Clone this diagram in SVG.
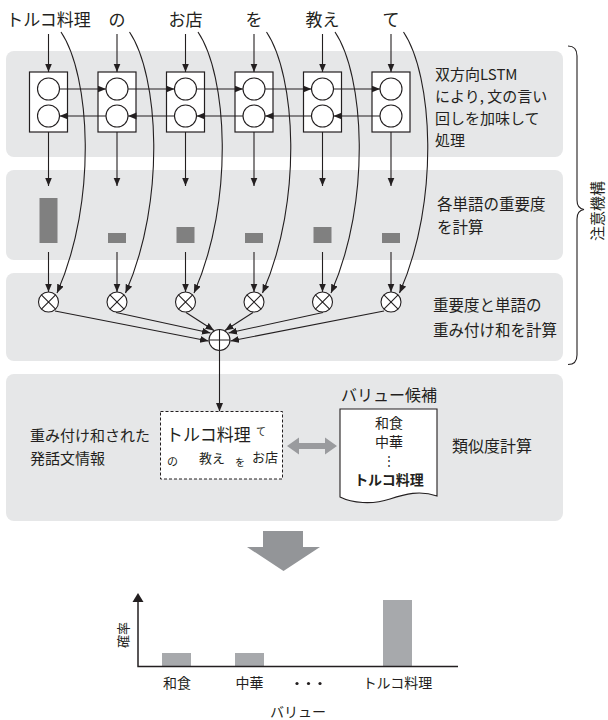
<svg xmlns="http://www.w3.org/2000/svg" width="608" height="720" viewBox="0 0 608 720">
<defs>
<style>
text{font-family:"Noto Sans CJK JP","Noto Sans",sans-serif;fill:#231f20}
.panel{fill:#e6e7e8}
.ln{stroke:#231f20;stroke-width:1.1;fill:none}
.box{fill:#fff;stroke:#231f20;stroke-width:1.2}
.cir{fill:#fff;stroke:#231f20;stroke-width:1.1}
.bar{fill:#808080}
.cbar{fill:#a7a9ac}
.t15{font-size:15px}
.w{font-size:17px;text-anchor:middle}
</style>
<marker id="ah" markerUnits="userSpaceOnUse" markerWidth="10" markerHeight="8" refX="8.5" refY="3.5" orient="auto">
<path d="M0,0 L8.5,3.5 L0,7 z" fill="#231f20"/>
</marker>
</defs>

<!-- panels -->
<rect class="panel" x="6" y="51" width="557" height="106" rx="8"/>
<rect class="panel" x="6" y="170" width="557" height="90" rx="8"/>
<rect class="panel" x="6" y="273" width="557" height="88" rx="8"/>
<rect class="panel" x="6" y="374" width="557" height="147" rx="8"/>

<!-- word labels -->
<g id="words">
<text class="w" x="48.5" y="26">トルコ料理</text>
<text class="w" x="117" y="26">の</text>
<text class="w" x="185.5" y="26">お店</text>
<text class="w" x="254" y="26">を</text>
<text class="w" x="322.5" y="26">教え</text>
<text class="w" x="391" y="26">て</text>
</g>

<!-- LSTM nodes -->
<g id="lstm1"><rect class="box" x="29.5" y="72" width="38" height="60"/><circle class="cir" cx="48.5" cy="89" r="11"/><circle class="cir" cx="48.5" cy="116" r="11"/></g>
<g id="lstm2"><rect class="box" x="98" y="72" width="38" height="60"/><circle class="cir" cx="117" cy="89" r="11"/><circle class="cir" cx="117" cy="116" r="11"/></g>
<g id="lstm3"><rect class="box" x="166.5" y="72" width="38" height="60"/><circle class="cir" cx="185.5" cy="89" r="11"/><circle class="cir" cx="185.5" cy="116" r="11"/></g>
<g id="lstm4"><rect class="box" x="235" y="72" width="38" height="60"/><circle class="cir" cx="254" cy="89" r="11"/><circle class="cir" cx="254" cy="116" r="11"/></g>
<g id="lstm5"><rect class="box" x="303.5" y="72" width="38" height="60"/><circle class="cir" cx="322.5" cy="89" r="11"/><circle class="cir" cx="322.5" cy="116" r="11"/></g>
<g id="lstm6"><rect class="box" x="372" y="72" width="38" height="60"/><circle class="cir" cx="391" cy="89" r="11"/><circle class="cir" cx="391" cy="116" r="11"/></g>

<!-- importance bars -->
<g id="imp">
<rect class="bar" x="39.5" y="198" width="18" height="45"/>
<rect class="bar" x="108" y="233" width="18" height="10"/>
<rect class="bar" x="176.5" y="227" width="18" height="16"/>
<rect class="bar" x="245" y="233" width="18" height="10"/>
<rect class="bar" x="313.5" y="227" width="18" height="16"/>
<rect class="bar" x="382" y="233" width="18" height="10"/>
</g>

<!-- multiply nodes -->
<g id="mul">
<g id="m1"><circle class="cir" cx="48.5" cy="302" r="10"/><path class="ln" d="M41.4,294.9 L55.6,309.1 M55.6,294.9 L41.4,309.1"/></g>
<g id="m2"><circle class="cir" cx="117" cy="302" r="10"/><path class="ln" d="M109.9,294.9 L124.1,309.1 M124.1,294.9 L109.9,309.1"/></g>
<g id="m3"><circle class="cir" cx="185.5" cy="302" r="10"/><path class="ln" d="M178.4,294.9 L192.6,309.1 M192.6,294.9 L178.4,309.1"/></g>
<g id="m4"><circle class="cir" cx="254" cy="302" r="10"/><path class="ln" d="M246.9,294.9 L261.1,309.1 M261.1,294.9 L246.9,309.1"/></g>
<g id="m5"><circle class="cir" cx="322.5" cy="302" r="10"/><path class="ln" d="M315.4,294.9 L329.6,309.1 M329.6,294.9 L315.4,309.1"/></g>
<g id="m6"><circle class="cir" cx="391" cy="302" r="10"/><path class="ln" d="M383.9,294.9 L398.1,309.1 M398.1,294.9 L383.9,309.1"/></g>
</g>

<!-- sum node -->
<g id="sum"><circle class="cir" cx="219.5" cy="340" r="10.5"/><path class="ln" d="M209,340 H230 M219.5,329.5 V350.5"/></g>

<!-- connectors -->
<g id="connectors" class="ln" marker-end="url(#ah)">
<path d="M48.5,34 V72"/><path d="M117,34 V72"/><path d="M185.5,34 V72"/><path d="M254,34 V72"/><path d="M322.5,34 V72"/><path d="M391,34 V72"/>
<path d="M59.5,89 H106"/><path d="M128,89 H174.5"/><path d="M196.5,89 H243"/><path d="M265,89 H311.5"/><path d="M333.5,89 H380"/>
<path d="M106,116 H59.5"/><path d="M174.5,116 H128"/><path d="M243,116 H196.5"/><path d="M311.5,116 H265"/><path d="M380,116 H333.5"/>
<path d="M48.5,132 V186"/><path d="M117,132 V186"/><path d="M185.5,132 V186"/><path d="M254,132 V186"/><path d="M322.5,132 V186"/><path d="M391,132 V186"/>
<path d="M48.5,252 V292"/><path d="M117,252 V292"/><path d="M185.5,252 V292"/><path d="M254,252 V292"/><path d="M322.5,252 V292"/><path d="M391,252 V292"/>
<path d="M61,32 C90,75 98,200 57,293"/>
<path d="M129.5,32 C158.5,75 166.5,200 125.5,293"/>
<path d="M198,32 C227,75 235,200 194,293"/>
<path d="M266.5,32 C295.5,75 303.5,200 262.5,293"/>
<path d="M335,32 C364,75 372,200 331,293"/>
<path d="M403.5,32 C432.5,75 440.5,200 399.5,293"/>
<path d="M55,311 L208.5,341"/>
<path d="M116,312.5 L210.5,333"/>
<path d="M186,312.5 L214,330.5"/>
<path d="M253,312.5 L225,330.5"/>
<path d="M323,312.5 L228.5,333"/>
<path d="M384,311 L230.5,341"/>
<path d="M219.5,350.5 V411.5"/>
</g>

<!-- panel texts -->
<g id="t1" style="font-size:15px">
<text x="435" y="79.5">双方向LSTM</text>
<text x="435" y="101.5">により, 文の言い</text>
<text x="435" y="123.5">回しを加味して</text>
<text x="435" y="145.5">処理</text>
</g>
<g id="t2" style="font-size:15.5px">
<text x="437" y="210">各単語の重要度</text>
<text x="437" y="232.5">を計算</text>
</g>
<g id="t3" style="font-size:15.5px">
<text x="433" y="311">重要度と単語の</text>
<text x="433" y="336">重み付け和を計算</text>
</g>

<!-- bracket -->
<g id="bracket">
<path class="ln" d="M568,46 Q577,46 577,56 V200 Q577,208.5 584,209.5 Q577,210.5 577,219 V355 Q577,364.5 568,364.5"/>
<text text-anchor="middle" transform="translate(602.5,211) rotate(-90)" style="font-size:15px">注意機構</text>
</g>

<!-- panel 4 -->
<g id="weighted-text" class="t15">
<text x="30" y="440.5">重み付け和された</text>
<text x="30" y="463.5">発話文情報</text>
</g>
<g id="weighted">
<rect x="160.5" y="411.5" width="122" height="67.5" fill="#fff" stroke="#231f20" stroke-width="1" stroke-dasharray="3,2"/>
<text x="166" y="441" style="font-size:17px">トルコ料理</text>
<text x="256" y="435" style="font-size:10px">て</text>
<text x="167" y="466" style="font-size:11px">の</text>
<text x="199" y="462.5" style="font-size:13px">教え</text>
<text x="235" y="466" style="font-size:10px">を</text>
<text x="252" y="462" style="font-size:13px">お店</text>
</g>
<g id="dblarrow">
<path d="M287,446 L299,437.5 V443 H325 V437.5 L337,446 L325,454.5 V449 H299 V454.5 Z" fill="#9a9b9e"/>
</g>
<g id="values">
<text x="389" y="401" text-anchor="middle" style="font-size:16px">バリュー候補</text>
<path d="M340,409 H437 V496 C420,490 405,494 390,499 C372,505 352,503 340,497 Z" fill="#fff" stroke="#231f20" stroke-width="1.1"/>
<text x="389" y="427.5" text-anchor="middle" style="font-size:14px">和食</text>
<text x="389" y="447" text-anchor="middle" style="font-size:14px">中華</text>
<text x="389" y="465" text-anchor="middle" style="font-size:12px">⋮</text>
<text x="389" y="485" text-anchor="middle" style="font-size:14px;font-weight:bold">トルコ料理</text>
</g>
<text x="452" y="451.5" style="font-size:16px">類似度計算</text>

<!-- big arrow -->
<path d="M263,531 H303 V547 H320 L283.5,571 L247,547 H263 Z" fill="#939598"/>

<!-- chart -->
<g id="chart">
<rect class="cbar" x="162" y="653" width="29" height="13"/>
<rect class="cbar" x="235" y="653" width="29" height="13"/>
<rect class="cbar" x="383" y="600" width="29" height="66"/>
<path d="M138,666.5 V601 M137.3,666.5 H458" stroke="#231f20" stroke-width="1.5" fill="none"/>
<path d="M138,593 L132.5,602 L143.5,602 Z" fill="#231f20"/>
<text x="0" y="0" text-anchor="middle" transform="translate(127.5,635) rotate(-90)" style="font-size:13px">確率</text>
<text x="177" y="688" text-anchor="middle" style="font-size:14px">和食</text>
<text x="249.5" y="688" text-anchor="middle" style="font-size:14px">中華</text>
<circle cx="297" cy="683.5" r="1.6" fill="#231f20"/><circle cx="308.5" cy="683.5" r="1.6" fill="#231f20"/><circle cx="320" cy="683.5" r="1.6" fill="#231f20"/>
<text x="397.5" y="688" text-anchor="middle" style="font-size:14px">トルコ料理</text>
<text x="298" y="717" text-anchor="middle" style="font-size:14px">バリュー</text>
</g>
</svg>
